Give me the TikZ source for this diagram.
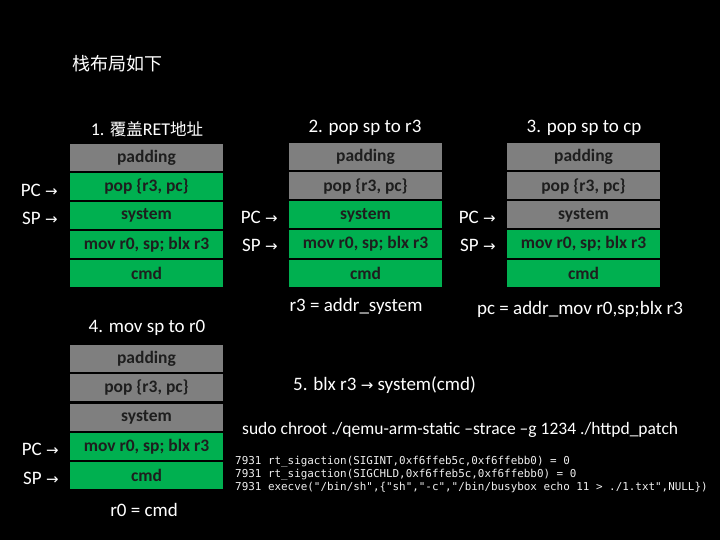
\documentclass[tikz,border=0pt]{standalone}
\usepackage{fontspec}
\setmainfont{Carlito}
\newfontfamily\cjk{Noto Sans CJK SC}
\newfontfamily\monof{DejaVu Sans Mono}
\newfontfamily\symf{DejaVu Sans}
\definecolor{cellgreen}{HTML}{00B050}
\definecolor{cellgray}{HTML}{7F7F7F}
\definecolor{celltext}{HTML}{1E1E1E}
\newcommand{\rarr}{{\symf\fontsize{15}{15}\selectfont →}}
\tikzset{
  cell/.style={minimum width=153pt, minimum height=27pt, inner sep=0pt,
    font=\fontsize{17.5}{19}\selectfont\bfseries, text=celltext},
  gcell/.style={cell, fill=cellgreen},
  ycell/.style={cell, fill=cellgray},
  lbl/.style={text=white, font=\fontsize{19}{21}\selectfont, inner sep=0pt},
  ptr/.style={lbl, anchor=east},
  code/.style={text=white!94!black, font=\monof\fontsize{10.9}{12.5}\selectfont, inner sep=0pt, anchor=west}
}
\begin{document}
\begin{tikzpicture}[x=1pt,y=-1pt]
\fill[black] (0,0) rectangle (720,540);
\useasboundingbox (0,0) rectangle (720,540);

\node[lbl, anchor=west, font=\cjk\fontsize{18}{20}\selectfont] (title) at (72,64) {栈布局如下};

% stack 1
\node[lbl, font=\fontsize{18}{20}\selectfont] (t1) at (147,129) {1. {\cjk\fontsize{16.5}{20}\selectfont 覆盖}RET{\cjk\fontsize{16.5}{20}\selectfont 地址}};
\node[ycell] (s1a) at (146.5,157.5) {padding};
\node[gcell] (s1b) at (146.5,186.5) {pop \{r3, pc\}};
\node[gcell] (s1c) at (146.5,215.5) {system};
\node[gcell] (s1d) at (146.5,244.5) {mov r0, sp; blx r3};
\node[gcell] (s1e) at (146.5,273.5) {cmd};
\node[ptr] (pc1) at ([xshift=-12pt,yshift=-4pt]s1b.west) {PC \rarr};
\node[ptr] (sp1) at ([xshift=-12pt,yshift=-3pt]s1c.west) {SP \rarr};

% stack 2
\node[lbl] (t2) at (365,128) {2. pop sp to r3};
\node[ycell] (s2a) at (365.5,157) {padding};
\node[ycell] (s2b) at (365.5,186) {pop \{r3, pc\}};
\node[gcell] (s2c) at (365.5,215) {system};
\node[gcell] (s2d) at (365.5,244) {mov r0, sp; blx r3};
\node[gcell] (s2e) at (365.5,273) {cmd};
\node[ptr] (pc2) at ([xshift=-11pt,yshift=-2pt]s2c.west) {PC \rarr};
\node[ptr] (sp2) at ([xshift=-11pt,yshift=-1pt]s2d.west) {SP \rarr};
\node[lbl] (r3) at (356,306) {r3 = addr\_system};

% stack 3
\node[lbl] (t3) at (584,128) {3. pop sp to cp};
\node[ycell] (s3a) at (583.5,157) {padding};
\node[ycell] (s3b) at (583.5,186) {pop \{r3, pc\}};
\node[ycell] (s3c) at (583.5,215) {system};
\node[gcell] (s3d) at (583.5,244) {mov r0, sp; blx r3};
\node[gcell] (s3e) at (583.5,273) {cmd};
\node[ptr] (pc3) at ([xshift=-11pt,yshift=-2pt]s3c.west) {PC \rarr};
\node[ptr] (sp3) at ([xshift=-11pt,yshift=-1pt]s3d.west) {SP \rarr};
\node[lbl] (pcv) at (580,309) {pc = addr\_mov r0,sp;blx r3};

% stack 4
\node[lbl] (t4) at (147,328) {4. mov sp to r0};
\node[ycell] (s4a) at (146.5,358.5) {padding};
\node[ycell] (s4b) at (146.5,387.5) {pop \{r3, pc\}};
\node[ycell] (s4c) at (146.5,417) {system};
\node[gcell] (s4d) at (146.5,446.5) {mov r0, sp; blx r3};
\node[gcell] (s4e) at (146.5,475) {cmd};
\node[ptr] (pc4) at ([xshift=-11pt,yshift=-3pt]s4d.west) {PC \rarr};
\node[ptr] (sp4) at ([xshift=-11pt,yshift=-3pt]s4e.west) {SP \rarr};
\node[lbl] (r0) at (144,510) {r0 = cmd};

% step 5
\node[lbl, anchor=west] (t5) at (293,385) {5. blx r3 \rarr\ system(cmd)};
\node[lbl, anchor=west, font=\fontsize{17.5}{20}\selectfont] (cmdline) at (242,430) {sudo chroot ./qemu-arm-static –strace –g 1234 ./httpd\_patch};
\node[code] (c1) at (235,462) {7931 rt\_sigaction(SIGINT,0xf6ffeb5c,0xf6ffebb0) = 0};
\node[code] (c2) at (235,474.5) {7931 rt\_sigaction(SIGCHLD,0xf6ffeb5c,0xf6ffebb0) = 0};
\node[code] (c3) at (235,487) {7931 execve("/bin/sh",\{"sh","-c","/bin/busybox echo 11 > ./1.txt",NULL\})};
\end{tikzpicture}
\end{document}
